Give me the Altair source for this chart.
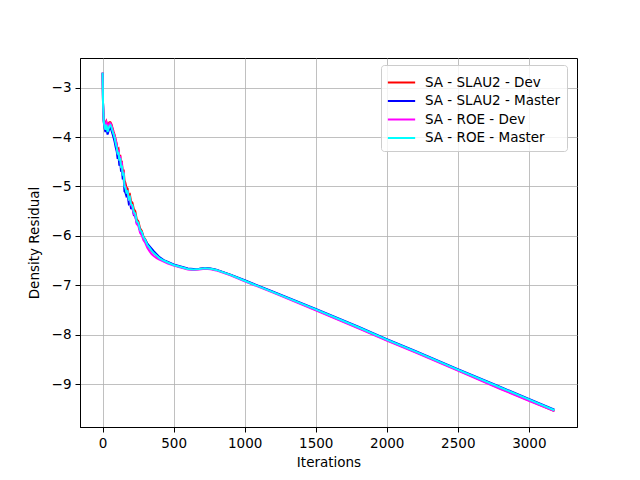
import altair as alt
import pandas as pd

series_names = ["SA - SLAU2 - Dev", "SA - SLAU2 - Master", "SA - ROE - Dev", "SA - ROE - Master"]
series_colors = ["#ff0000", "#0000ff", "#ff00ff", "#00ffff"]

iters = [0, 3, 8, 15, 20, 26, 30, 35, 40, 48, 55, 62, 70, 78, 85, 92, 100, 106, 112, 118,
         124, 130, 136, 142, 148, 154, 160, 168, 176, 184, 192, 200, 210, 220, 230, 240,
         252, 264, 276, 288, 300, 315, 330, 345, 360, 380, 400, 430, 460, 500, 550, 600,
         640, 680, 720, 760, 800, 900, 1000, 1200, 1500, 1800, 2000, 2200, 2500, 2800,
         3000, 3180]

slau2_dev = [-2.70, -3.30, -3.66, -3.76, -3.72, -3.68, -3.72, -3.80, -3.74, -3.70, -3.70, -3.74,
             -3.82, -3.90, -3.96, -4.05, -4.15, -4.26, -4.24, -4.40, -4.36, -4.54, -4.52, -4.70,
             -4.66, -4.88, -4.92, -5.02, -5.04, -5.18, -5.16, -5.30, -5.33, -5.46, -5.50, -5.66,
             -5.71, -5.85, -5.90, -6.02, -6.07, -6.17, -6.24, -6.30, -6.35, -6.40, -6.45, -6.50,
             -6.54, -6.59, -6.63, -6.67, -6.68, -6.67, -6.655, -6.665, -6.69, -6.79, -6.91,
             -7.14, -7.50, -7.86, -8.11, -8.35, -8.72, -9.09, -9.33, -9.55]

slau2_master = [-2.70, -3.32, -3.70, -3.84, -3.90, -3.80, -3.86, -3.95, -3.90, -3.82, -3.80, -3.86,
                -3.94, -4.02, -4.10, -4.20, -4.30, -4.44, -4.38, -4.58, -4.50, -4.70, -4.66, -4.86,
                -4.80, -5.10, -5.12, -5.20, -5.18, -5.34, -5.30, -5.44, -5.44, -5.58, -5.60, -5.74,
                -5.77, -5.90, -5.94, -6.04, -6.08, -6.16, -6.21, -6.26, -6.31, -6.37, -6.43, -6.49,
                -6.53, -6.58, -6.62, -6.66, -6.67, -6.665, -6.65, -6.66, -6.685, -6.785, -6.90,
                -7.13, -7.48, -7.84, -8.09, -8.33, -8.70, -9.06, -9.30, -9.52]

roe_dev = [-2.70, -3.30, -3.67, -3.78, -3.76, -3.70, -3.74, -3.84, -3.78, -3.72, -3.72, -3.76,
           -3.84, -3.92, -3.98, -4.06, -4.16, -4.30, -4.26, -4.44, -4.38, -4.58, -4.55, -4.74,
           -4.70, -4.96, -5.00, -5.10, -5.10, -5.26, -5.24, -5.38, -5.42, -5.56, -5.60, -5.76,
           -5.80, -5.94, -5.99, -6.09, -6.14, -6.24, -6.31, -6.37, -6.41, -6.45, -6.48, -6.52,
           -6.56, -6.60, -6.64, -6.68, -6.69, -6.68, -6.665, -6.675, -6.70, -6.80, -6.92,
           -7.15, -7.51, -7.87, -8.12, -8.36, -8.73, -9.10, -9.34, -9.55]

roe_master = [-2.70, -3.30, -3.68, -3.80, -3.85, -3.75, -3.80, -3.90, -3.85, -3.78, -3.76, -3.80,
              -3.88, -3.95, -4.02, -4.12, -4.22, -4.35, -4.30, -4.48, -4.42, -4.62, -4.58, -4.78,
              -4.72, -5.00, -5.02, -5.12, -5.10, -5.25, -5.22, -5.36, -5.38, -5.52, -5.55, -5.70,
              -5.74, -5.88, -5.92, -6.03, -6.08, -6.18, -6.24, -6.30, -6.35, -6.40, -6.45, -6.50,
              -6.54, -6.59, -6.63, -6.67, -6.68, -6.67, -6.655, -6.665, -6.69, -6.79, -6.91,
              -7.14, -7.49, -7.85, -8.10, -8.34, -8.71, -9.07, -9.31, -9.53]

x_ticks = [0, 500, 1000, 1500, 2000, 2500, 3000]
y_ticks = [-9, -8, -7, -6, -5, -4, -3]

frames = []
for i, (name, vals) in enumerate(zip(series_names, [slau2_dev, slau2_master, roe_dev, roe_master])):
    frames.append(pd.DataFrame({"Iterations": iters, "Residual": vals, "Series": name, "order": i}))
df = pd.concat(frames, ignore_index=True)

font = "DejaVu Sans"

chart = alt.Chart(df).mark_line(strokeWidth=2, clip=True).encode(
    x=alt.X("Iterations:Q",
            scale=alt.Scale(domain=[-159, 3339], nice=False, zero=False),
            axis=alt.Axis(values=x_ticks, title="Iterations", format="d")),
    y=alt.Y("Residual:Q",
            scale=alt.Scale(domain=[-9.87, -2.40], nice=False, zero=False),
            axis=alt.Axis(values=y_ticks, title="Density Residual", format="d")),
    color=alt.Color("Series:N",
                    scale=alt.Scale(domain=series_names, range=series_colors),
                    sort=series_names,
                    legend=alt.Legend(title=None, orient="none", legendX=301, legendY=7,
                                      symbolType="M-1.3,0L1.3,0", symbolSize=441,
                                      symbolStrokeWidth=2, symbolOffset=3,
                                      labelFontSize=13.5, labelFont=font, labelOffset=12,
                                      rowPadding=0.5, padding=6, strokeColor="#cccccc",
                                      fillColor="rgba(255,255,255,0.8)", cornerRadius=3,
                                      labelLimit=300)),
    detail="order:O",
    order=alt.Order("Iterations:Q"),
).properties(
    width=497, height=369,
    background="white",
    autosize=alt.AutoSizeParams(type="none"),
    padding={"left": 72, "top": 50, "right": 55, "bottom": 45},
).configure_axis(
    grid=True, gridColor="#b0b0b0", gridWidth=0.8,
    domainColor="black", domainWidth=1, tickColor="black", tickSize=5, tickWidth=1,
    labelFont=font, labelFontSize=13.5, labelColor="black", labelPadding=4,
    titleFont=font, titleFontSize=13.5, titleColor="black", titleFontWeight="normal",
).configure_axisX(titlePadding=6).configure_axisY(titlePadding=10).configure_view(
    stroke="black", strokeWidth=1
)

chart.save("out.html", embed_options={"renderer": "svg", "actions": False})
